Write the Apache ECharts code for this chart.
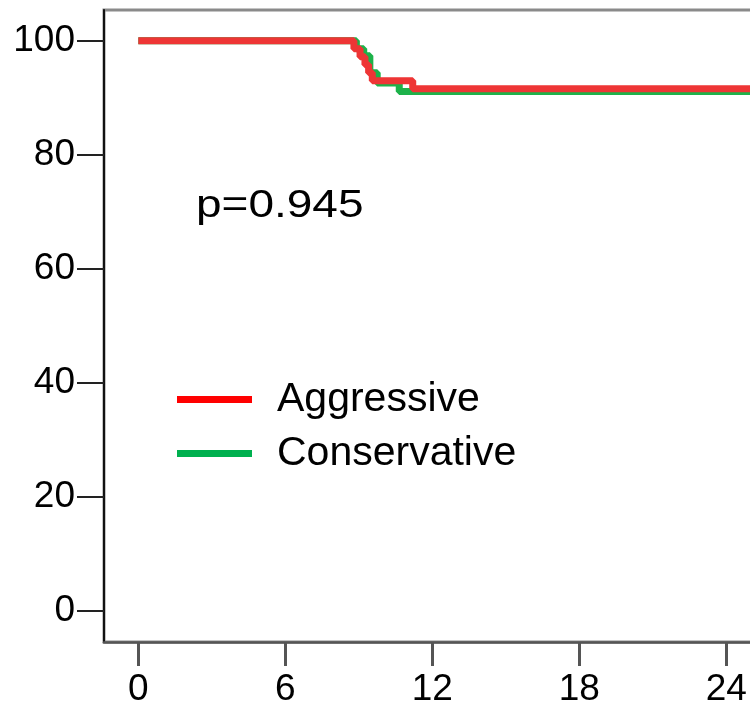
<!DOCTYPE html>
<html>
<head>
<meta charset="utf-8">
<script src="https://cdn.jsdelivr.net/npm/echarts@6/dist/echarts.min.js"></script>
<style>
  html, body { margin: 0; padding: 0; background: #fff; }
  #km { width: 750px; height: 701px; }
</style>
</head>
<body>
<div id="km"></div>
<script>
// survival curves (months, % surviving)
let aggressive = [[0, 100], [8.8, 98.6], [9.05, 97.2], [9.25, 95.8], [9.4, 94.4], [9.55, 93.0], [11.2, 91.6], [32, 91.6]];
let conservative = [[0, 100], [8.9, 98.6], [9.2, 97.4], [9.45, 94.4], [9.75, 92.6], [10.65, 91.1], [32, 91.1]];
let xTicks = [0, 6, 12, 18, 24, 30];
let yTicks = [0, 20, 40, 60, 80, 100];
let pText = 'p=0.945';

let myChart = echarts.init(document.getElementById('km'));
let option = {
  animation: false,
  grid: {
    left: 104,
    top: 10,
    width: 800,
    height: 632,
    outerBoundsMode: 'none',
    containLabel: false,
    show: true,
    borderColor: '#8a8a8a',
    borderWidth: 3
  },
  legend: {
    orient: 'vertical',
    left: 172,
    top: 374,
    icon: 'rect',
    itemWidth: 75,
    itemHeight: 7,
    itemGap: 13,
    textStyle: {
      fontFamily: 'Liberation Sans',
      fontSize: 41,
      lineHeight: 40,
      color: '#000',
      padding: [0, 0, 0, 20]
    },
    data: ['Aggressive', 'Conservative']
  },
  graphic: [
    {
      type: 'text',
      x: 196,
      y: 207,
      scaleX: 1.21,
      style: {
        text: pText,
        font: '38px "Liberation Sans"',
        fill: '#000',
        verticalAlign: 'middle'
      }
    }
  ],
  xAxis: {
    type: 'value',
    min: -1.4,
    max: 31.25,
    splitLine: { show: false },
    axisLine: { show: true, onZero: false, lineStyle: { color: '#555', width: 2.5 } },
    axisTick: {
      show: true,
      length: 24,
      customValues: xTicks,
      lineStyle: { color: '#555', width: 3 }
    },
    axisLabel: {
      customValues: xTicks,
      margin: 29,
      fontFamily: 'Liberation Sans',
      fontSize: 37,
      color: '#000'
    }
  },
  yAxis: {
    type: 'value',
    min: -5.4,
    max: 105.4,
    splitLine: { show: false },
    axisLine: { show: true, onZero: false, lineStyle: { color: '#111', width: 2 } },
    axisTick: {
      show: true,
      length: 27,
      customValues: yTicks,
      lineStyle: { color: '#222', width: 2 }
    },
    axisLabel: {
      customValues: yTicks,
      margin: 29,
      fontFamily: 'Liberation Sans',
      fontSize: 37,
      color: '#000'
    }
  },
  series: [
    {
      name: 'Conservative',
      type: 'line',
      step: 'end',
      showSymbol: false,
      color: '#00b04f',
      lineStyle: { width: 7, color: '#1db24a' },
      data: conservative
    },
    {
      name: 'Aggressive',
      type: 'line',
      step: 'end',
      showSymbol: false,
      color: '#ff0000',
      lineStyle: { width: 7, color: '#ee3535' },
      data: aggressive
    }
  ]
};
myChart.setOption(option);
</script>
</body>
</html>
